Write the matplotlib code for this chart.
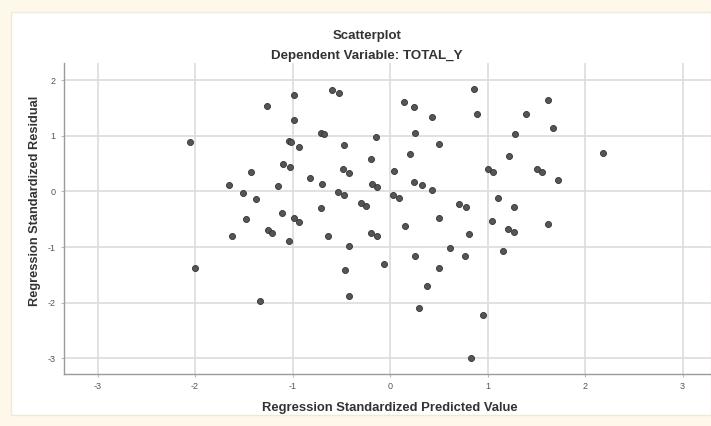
import matplotlib
matplotlib.use("Agg")
import matplotlib.pyplot as plt
from matplotlib.patches import Rectangle

pred = [-2.05, -2.00, -1.65, -1.62, -1.51, -1.48, -1.43, -1.37, -1.33, -1.265,
        -1.25, -1.21, -1.15, -1.11, -1.10, -1.04, -1.02, -1.03, -1.04, -0.99,
        -0.93, -0.98, -0.98, -0.93, -0.82, -0.71, -0.68, -0.70, -0.71, -0.64,
        -0.60, -0.52, -0.53, -0.47, -0.47, -0.48, -0.42, -0.46, -0.42, -0.42,
        -0.30, -0.25, -0.20, -0.195, -0.13, -0.19, -0.13, -0.14, -0.065, 0.03,
        0.095, 0.044, 0.14, 0.15, 0.205, 0.25, 0.26, 0.25, 0.33, 0.26,
        0.30, 0.375, 0.43, 0.43, 0.50, 0.50, 0.50, 0.61, 0.71, 0.78,
        0.77, 0.81, 0.83, 0.865, 0.89, 0.95, 1.00, 1.06, 1.05, 1.105,
        1.16, 1.215, 1.275, 1.275, 1.22, 1.285, 1.395, 1.505, 1.56, 1.62,
        1.62, 1.67, 1.72, 2.18]
resid = [0.90, -1.37, 0.11, -0.81, -0.03, -0.49, 0.36, -0.14, -1.97, 1.54,
         -0.69, -0.74, 0.10, -0.39, 0.50, 0.91, 0.89, 0.44, -0.89, -0.48,
         -0.55, 1.73, 1.28, 0.80, 0.25, 1.05, 1.04, 0.135, -0.29, -0.80,
         1.83, 1.77, -0.015, -0.06, 0.83, 0.40, 0.34, -1.41, -0.99, -1.89,
         -0.21, -0.26, 0.59, -0.75, -0.81, 0.135, 0.075, 0.98, -1.31, -0.06,
         -0.11, 0.37, 1.62, -0.62, 0.67, 1.52, 1.06, 0.18, 0.12, -1.16,
         -2.09, -1.71, 1.35, 0.02, 0.86, -0.48, -1.37, -1.02, -0.225, -0.285,
         -1.16, -0.77, -3.00, 1.85, 1.40, -2.23, 0.41, 0.36, -0.53, -0.12,
         -1.07, -0.675, -0.735, -0.28, 0.645, 1.04, 1.39, 0.405, 0.36, 1.64,
         -0.585, 1.14, 0.21, 0.69]

xticks = [-3, -2, -1, 0, 1, 2, 3]
yticks = [-3, -2, -1, 0, 1, 2]

title = "Scatterplot"
subtitle = "Dependent Variable: TOTAL_Y"
xlabel = "Regression Standardized Predicted Value"
ylabel = "Regression Standardized Residual"

plt.rcParams['font.family'] = ['Liberation Sans', 'DejaVu Sans']

W, H = 711, 426
fig = plt.figure(figsize=(W / 100, H / 100), dpi=100)
fig.patch.set_facecolor('#fdf8ea')

# inner white panel
fig.patches.append(Rectangle((11 / W, 11 / H), (W - 11) / W, (414 - 11) / H,
                             transform=fig.transFigure, facecolor='white',
                             edgecolor='#efe9d8', linewidth=1.0, zorder=-5))

ax = fig.add_axes([64 / W, 52 / H, (W - 64) / W, (374 - 63) / H])
ax.set_zorder(2)
ax.set_facecolor('none')
ax.set_xlim(-3.344, 3.292)
ax.set_ylim(-3.288, 2.315)
ax.set_xticks(xticks)
ax.set_yticks(yticks)
ax.set_xticklabels([str(t) for t in xticks])
ax.set_yticklabels([str(t) for t in yticks])
ax.grid(True, color='#dcdcdc', linewidth=1.2)
ax.set_axisbelow(True)
for s in ['top', 'right']:
    ax.spines[s].set_visible(False)
for s in ['left', 'bottom']:
    ax.spines[s].set_color('#9a9a9a')
    ax.spines[s].set_linewidth(1.0)
ax.tick_params(axis='both', length=2, color='#bbbbbb', labelsize=6.5,
               labelcolor='#555555', pad=4)

ax.scatter(pred, resid, s=19, color='#555555', edgecolors='#333333',
           linewidths=0.6, zorder=3)

fig.text(367 / W, 1 - 36 / H, title, ha='center', va='center',
         fontsize=9.5, fontweight='bold', color='#333333')
fig.text(367 / W, 1 - 56 / H, subtitle, ha='center', va='center',
         fontsize=9.6, fontweight='bold', color='#333333')
fig.text(390 / W, 1 - 408 / H, xlabel, ha='center', va='center',
         fontsize=9.4, fontweight='bold', color='#333333')
fig.text(35 / W, 1 - 201 / H, ylabel, ha='center', va='center',
         rotation=90, fontsize=9.2, fontweight='bold', color='#333333')

fig.savefig('out.png', dpi=100, facecolor=fig.get_facecolor())
